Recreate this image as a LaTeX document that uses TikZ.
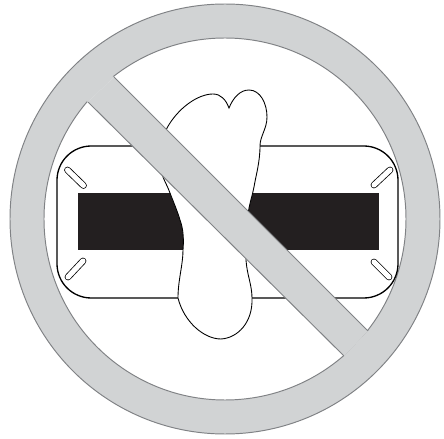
\documentclass[tikz,border=0pt]{standalone}
\usepackage{xcolor}
\definecolor{ringgray}{HTML}{D1D3D4}
\definecolor{ringline}{HTML}{808285}
\definecolor{barblack}{HTML}{231F20}

\begin{document}
\begin{tikzpicture}[x=0.02cm, y=-0.02cm, line width=0.5pt,
        ringedge/.style={draw=ringline, line width=0.55pt},
        slotline/.style={draw=black, line width=0.45pt, line cap=round, double=white, double distance=2.9pt}]
        \useasboundingbox (0,0) rectangle (444,439);

        \filldraw[fill=ringgray, ringedge] (225,219) circle (215);
        \filldraw[fill=white, ringedge] (225,219) circle (181);

        \draw[black, line width=0.75pt, rounded corners=19.5pt] (57,146) rectangle (398,298);
        \fill[barblack] (78,193) rectangle (379,250);

        \foreach \xa/\ya/\xb/\yb in {67.5/170/83.5/185.5, 374/185/390/170, 68/277/83/261, 374/262/389/277}
            \draw[slotline] (\xa,\ya) -- (\xb,\yb);

        \filldraw[fill=white, draw=black, line width=0.5pt] (167,128)
            .. controls (178,108) and (198,94) .. (213,94)
            .. controls (221,94) and (226,100) .. (229,108)
            .. controls (233,98) and (240,90) .. (249,90)
            .. controls (260,90) and (267,103) .. (267,117)
            .. controls (267,129) and (260,136) .. (260,146)
            .. controls (260,162) and (256,175) .. (254,187)
            .. controls (252,197) and (249,205) .. (248,215)
            .. controls (246,232) and (245,245) .. (246,260)
            .. controls (247,275) and (252,285) .. (252,298)
            .. controls (253,322) and (238,338) .. (221,339)
            .. controls (204,339) and (184,322) .. (178,298)
            .. controls (178,280) and (183,265) .. (183,250)
            .. controls (184,238) and (183,228) .. (180,220)
            .. controls (177,210) and (173,201) .. (170,193)
            .. controls (167,185) and (164,180) .. (163,177)
            .. controls (159,160) and (160,142) .. (167,128);

        % the slash runs into the ring at both ends
        \fill[ringgray] (88,102) -- (114,77) -- (368,331) -- (344,356) -- cycle;
        \draw[ringedge] (88,102) -- (344,356);
        \draw[ringedge] (114,77) -- (368,331);
        \fill[ringgray] (88,102) -- (114,77) -- (104,72) -- (78,97) -- cycle;
        \fill[ringgray] (344,356) -- (368,331) -- (378,336) -- (354,361) -- cycle;
    \end{tikzpicture}
\end{document}
